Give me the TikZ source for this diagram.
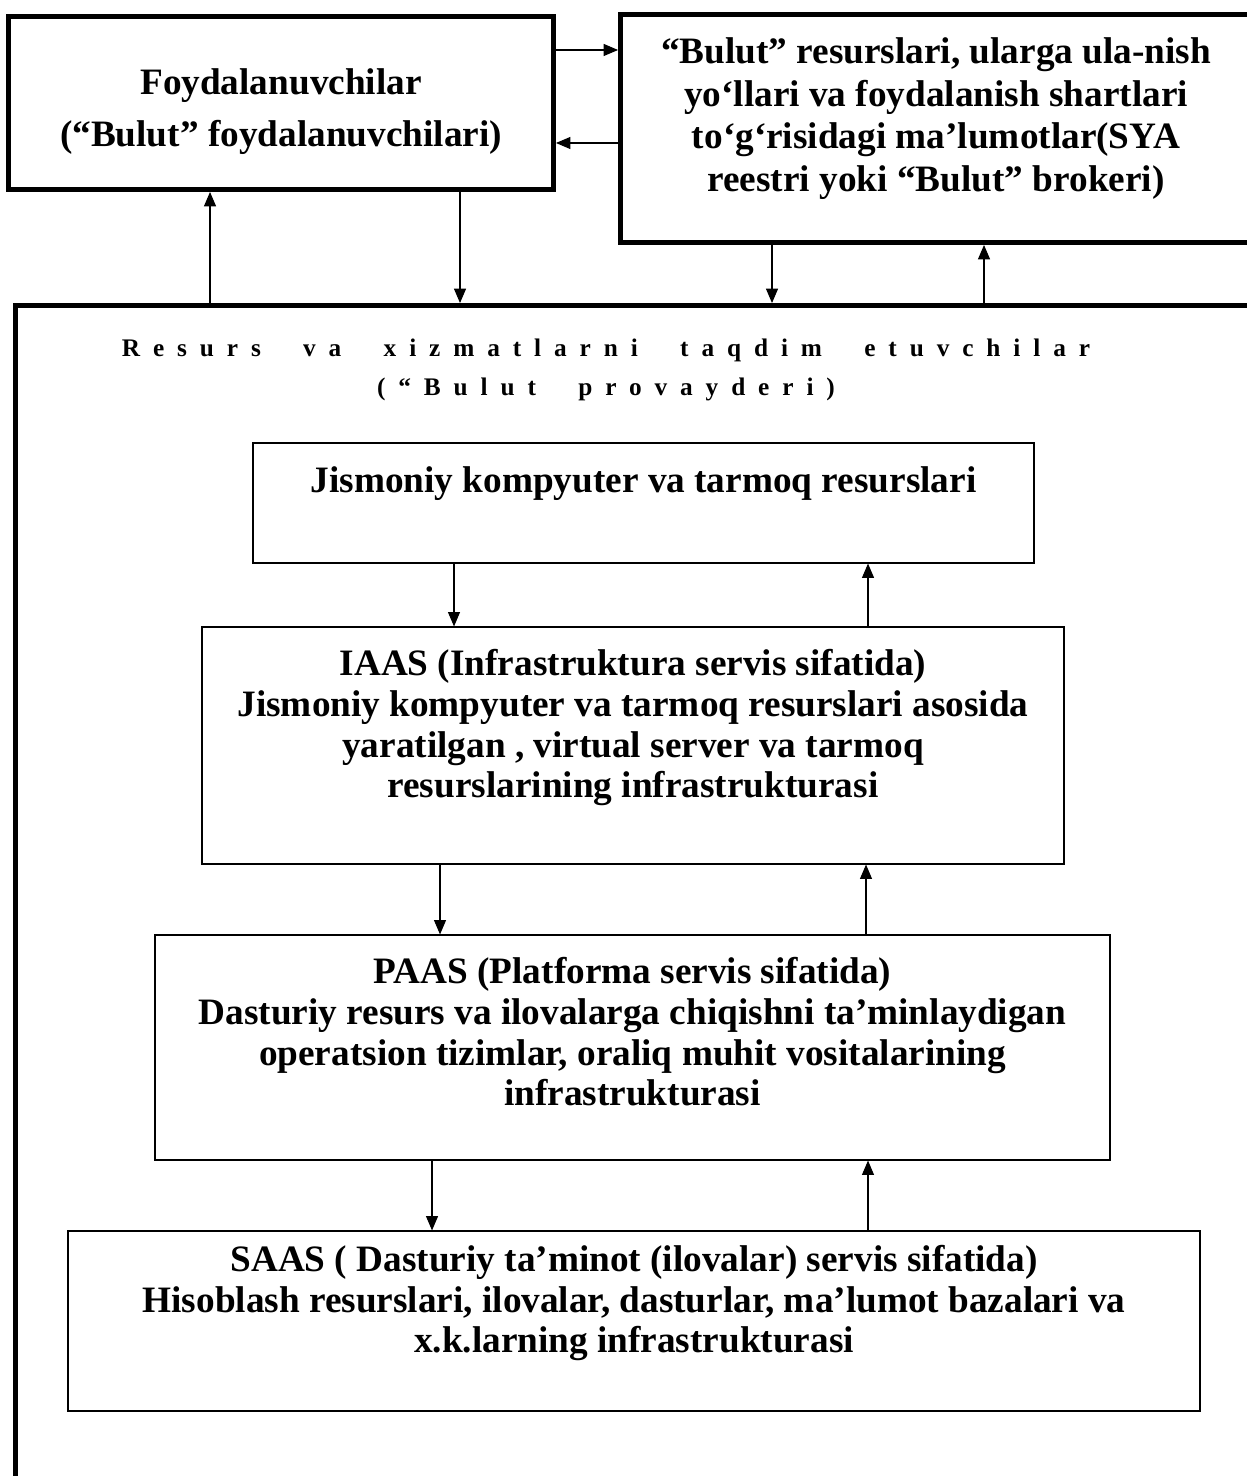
\documentclass[tikz,border=0pt]{standalone}
\usepackage{fontspec}
\setmainfont{Liberation Serif}
\newfontfamily\spacedfont[LetterSpace=51,WordSpace=2.2]{Liberation Serif}
\usetikzlibrary{arrows.meta}

\begin{document}
\begin{tikzpicture}[every node/.style={align=center, font=\bfseries},
		thickbox/.style={draw, line width=3.5pt, inner sep=0pt},
		layer/.style={draw, line width=0.8pt, inner sep=0pt, font=\bfseries\fontsize{26.5}{29}\selectfont},
		arr/.style={-{Triangle[length=0.36cm,width=0.3cm]}, line width=0.8pt}]
	\useasboundingbox (0,0) rectangle (31.15,-36.9);
	% top row
	\node (users) at (7.025,-2.575) [thickbox, minimum width=13.625cm, minimum height=4.325cm, text height=2.45cm, text depth=0.25cm, font=\bfseries\fontsize{26.5}{37}\selectfont] {Foydalanuvchilar\\(“Bulut” foydalanuvchilari)};
	\node (registry) at (23.4,-3.2125) [thickbox, minimum width=15.775cm, minimum height=5.7cm, text depth=0.7cm, font=\bfseries\fontsize{26.5}{30.2}\selectfont] {“Bulut” resurslari, ularga ula-nish\\yo‘llari va foydalanish shartlari\\to‘g‘risidagi ma’lumotlar(SYA\\reestri yoki “Bulut” brokeri)};
	% provider frame
	\node (provider) at (16.44375,-23.19375) [thickbox, minimum width=32.1125cm, minimum height=31.1125cm] {};
	\node (provtitle) at (15.15,-9.25) [font=\spacedfont\bfseries\fontsize{18}{27.6}\selectfont] {Resurs va xizmatlarni taqdim etuvchilar\\(“Bulut provayderi)};
	% layers
	\node (phys) at (16.0875,-12.575) [layer, minimum width=19.525cm, minimum height=3cm, text depth=1.15cm] {Jismoniy kompyuter va tarmoq resurslari};
	\node (iaas) at (15.825,-18.6375) [layer, minimum width=21.55cm, minimum height=5.925cm, text depth=1.1cm] {IAAS (Infrastruktura servis sifatida)\\Jismoniy kompyuter va tarmoq resurslari asosida\\yaratilgan , virtual server va tarmoq\\resurslarining infrastrukturasi};
	\node (paas) at (15.8125,-26.1875) [layer, minimum width=23.875cm, minimum height=5.625cm, text depth=0.8cm] {PAAS (Platforma servis sifatida)\\Dasturiy resurs va ilovalarga chiqishni ta’minlaydigan\\operatsion tizimlar, oraliq muhit vositalarining\\infrastrukturasi};
	\node (saas) at (15.85,-33.025) [layer, minimum width=28.3cm, minimum height=4.5cm, text depth=1.1cm] {SAAS ( Dasturiy ta’minot (ilovalar) servis sifatida)\\Hisoblash resurslari, ilovalar, dasturlar, ma’lumot bazalari va\\x.k.larning infrastrukturasi};

	\draw[arr] ([yshift=1.325cm]users.east) -- ([yshift=1.325cm]users.east -| registry.west);
	\draw[arr] ([yshift=-1cm]users.east -| registry.west) -- ([yshift=-1cm]users.east);
	\draw[arr] ([xshift=-1.775cm]users.south |- provider.north) -- ([xshift=-1.775cm]users.south);
	\draw[arr] ([xshift=4.475cm]users.south) -- ([xshift=4.475cm]users.south |- provider.north);
	\draw[arr] ([xshift=-4.1cm]registry.south) -- ([xshift=-4.1cm]registry.south |- provider.north);
	\draw[arr] ([xshift=1.2cm]registry.south |- provider.north) -- ([xshift=1.2cm]registry.south);
	\draw[arr] ([xshift=-4.7375cm]phys.south) -- ([xshift=-4.7375cm]phys.south |- iaas.north);
	\draw[arr] ([xshift=5.6125cm]phys.south |- iaas.north) -- ([xshift=5.6125cm]phys.south);
	\draw[arr] ([xshift=-4.825cm]iaas.south) -- ([xshift=-4.825cm]iaas.south |- paas.north);
	\draw[arr] ([xshift=5.825cm]iaas.south |- paas.north) -- ([xshift=5.825cm]iaas.south);
	\draw[arr] ([xshift=-5.0125cm]paas.south) -- ([xshift=-5.0125cm]paas.south |- saas.north);
	\draw[arr] ([xshift=5.8875cm]paas.south |- saas.north) -- ([xshift=5.8875cm]paas.south);
\end{tikzpicture}
\end{document}
